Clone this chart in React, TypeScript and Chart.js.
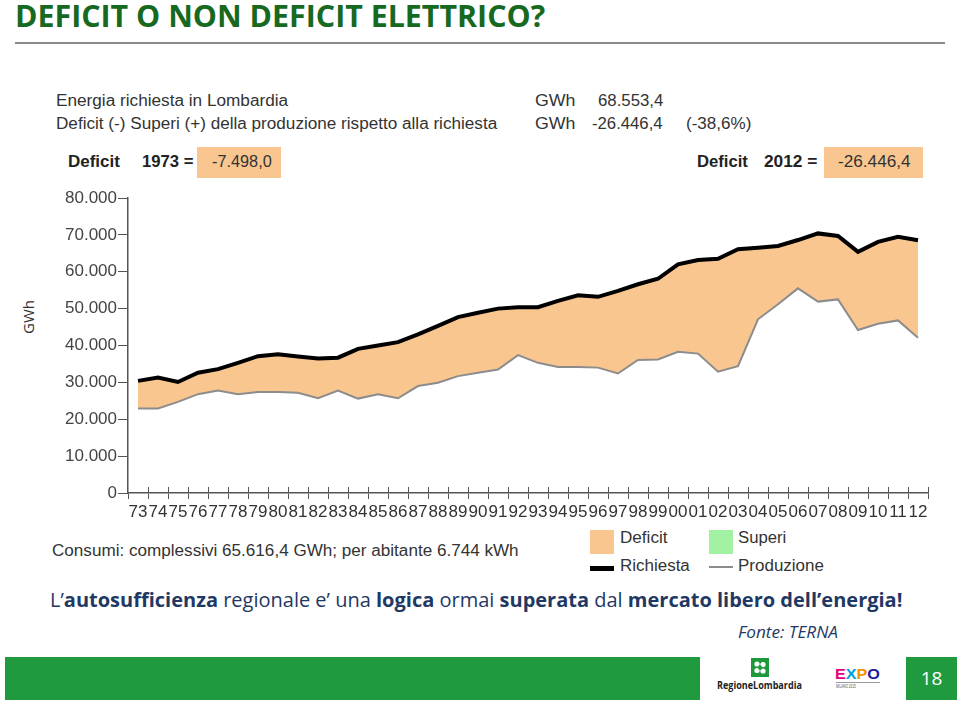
import React, { useEffect, useLayoutEffect, useRef } from "react";
import { Chart, registerables } from "chart.js";

Chart.register(...registerables);

// ---- data (GWh) ----
const years = [
  "73", "74", "75", "76", "77", "78", "79", "80", "81", "82",
  "83", "84", "85", "86", "87", "88", "89", "90", "91", "92",
  "93", "94", "95", "96", "97", "98", "99", "00", "01", "02",
  "03", "04", "05", "06", "07", "08", "09", "10", "11", "12",
];

const richiesta = [
  30400, 31300, 30100, 32600, 33600, 35300, 37100, 37600, 37000, 36500,
  36700, 39100, 40000, 40900, 43000, 45300, 47700, 48900, 50000, 50400,
  50400, 52100, 53600, 53200, 54800, 56600, 58100, 62000, 63200, 63500,
  66100, 66500, 67000, 68600, 70400, 69700, 65400, 68100, 69500, 68553,
];

const produzione = [
  22900, 22900, 24700, 26800, 27800, 26800, 27400, 27400, 27200, 25700,
  27800, 25600, 26800, 25700, 29000, 29900, 31700, 32600, 33500, 37400,
  35300, 34200, 34200, 34000, 32400, 36100, 36200, 38300, 37800, 32900,
  34400, 47100, 51200, 55500, 51900, 52500, 44200, 45900, 46800, 42107,
];

const yMin = 0;
const yMax = 80000;
const yStep = 10000;

const DEFICIT_COLOR = "#F9C690";
const SUPERI_COLOR = "#A3F2A3";
const AXIS_COLOR = "#555555";
const TEXT_COLOR = "#333333";
const GREEN = "#1F9A3F";
const BLUE = "#1F3864";

const fmt = (v: number) =>
  String(Math.round(v)).replace(/\B(?=(\d{3})+(?!\d))/g, ".");

const tickAbove = {
  id: "tickAbove",
  afterDraw(chart: any) {
    const xs = chart.scales.x;
    const ctx = chart.ctx;
    const y = xs.top;
    const n = chart.data.labels.length;
    ctx.save();
    ctx.strokeStyle = AXIS_COLOR;
    ctx.lineWidth = 1;
    for (let i = 1; i <= n; i++) {
      const x =
        i < n
          ? (xs.getPixelForValue(i - 1) + xs.getPixelForValue(i)) / 2
          : xs.right;
      const px = Math.round(x) + 0.5;
      ctx.beginPath();
      ctx.moveTo(px, y - 6);
      ctx.lineTo(px, y);
      ctx.stroke();
    }
    ctx.restore();
  },
};

function FitText(props: {
  left: number;
  top: number;
  width: number;
  style?: React.CSSProperties;
  children: React.ReactNode;
}) {
  const ref = useRef<HTMLSpanElement>(null);
  useLayoutEffect(() => {
    const el = ref.current;
    if (!el) return;
    el.style.transform = "none";
    const w = el.offsetWidth;
    if (w > 0) el.style.transform = `scaleX(${props.width / w})`;
  }, [props.width]);
  return (
    <div
      style={{
        position: "absolute",
        left: props.left,
        top: props.top,
        whiteSpace: "nowrap",
        lineHeight: 1,
        ...props.style,
      }}
    >
      <span ref={ref} style={{ display: "inline-block", transformOrigin: "0 0" }}>
        {props.children}
      </span>
    </div>
  );
}

const ARIAL = "'Liberation Sans', Arial, sans-serif";
const SANS = "'Open Sans', 'Noto Sans', sans-serif";

// Liberation Sans, line-height 1: cap centre ~ top + 0.49 fs
const lib = (cc: number, fs: number) => cc - 0.49 * fs;

function ChartBox() {
  const ref = useRef<HTMLCanvasElement>(null);
  useEffect(() => {
    if (!ref.current) return;
    const chart = new Chart(ref.current, {
      type: "line",
      data: {
        labels: years,
        datasets: [
          {
            label: "Richiesta",
            data: richiesta,
            borderColor: "#000000",
            borderWidth: 4,
            backgroundColor: DEFICIT_COLOR,
            fill: "+1",
            pointRadius: 0,
            tension: 0,
          },
          {
            label: "Produzione",
            data: produzione,
            borderColor: "#8C8C8C",
            borderWidth: 2,
            backgroundColor: DEFICIT_COLOR,
            fill: false,
            pointRadius: 0,
            tension: 0,
          },
        ],
      },
      options: {
        animation: false,
        responsive: false,
        devicePixelRatio: 1,
        layout: { padding: { top: 18, right: 12, left: 0, bottom: 0 } },
        plugins: {
          legend: { display: false },
          tooltip: { enabled: false },
          filler: { drawTime: "beforeDatasetsDraw" },
        } as any,
        scales: {
          x: {
            type: "category",
            offset: true,
            grid: {
              offset: true,
              drawOnChartArea: false,
              drawTicks: true,
              tickLength: 6,
              color: AXIS_COLOR,
              lineWidth: 1,
            },
            border: { display: true, color: AXIS_COLOR, width: 1.5 },
            ticks: {
              autoSkip: false,
              maxRotation: 0,
              minRotation: 0,
              padding: 3,
              color: TEXT_COLOR,
              font: { family: ARIAL, size: 17 },
            },
            afterFit: (s: any) => {
              s.height = 32;
            },
          },
          y: {
            min: yMin,
            max: yMax,
            grid: {
              drawOnChartArea: false,
              drawTicks: true,
              tickLength: 10,
              color: AXIS_COLOR,
              lineWidth: 1,
            },
            border: { display: true, color: AXIS_COLOR, width: 1.5 },
            ticks: {
              stepSize: yStep,
              padding: 1,
              color: "#444444",
              font: { family: ARIAL, size: 17 },
              callback: (v: any) => fmt(Number(v)),
            },
            afterFit: (s: any) => {
              s.width = 108;
            },
          },
        },
      } as any,
      plugins: [tickAbove],
    });
    return () => chart.destroy();
  }, []);
  return (
    <canvas
      ref={ref}
      width={920}
      height={345}
      style={{ position: "absolute", left: 20, top: 180, width: 920, height: 345 }}
    />
  );
}

export default function App() {
  const chartText: React.CSSProperties = {
    fontFamily: ARIAL,
    fontSize: 16,
    color: TEXT_COLOR,
  };
  const boldText: React.CSSProperties = {
    ...chartText,
    fontWeight: "bold",
    color: "#222",
  };
  return (
    <div
      style={{
        position: "absolute",
        left: 0,
        top: 0,
        width: 960,
        height: 701,
        background: "#ffffff",
        overflow: "hidden",
      }}
    >
      {/* Title */}
      <FitText
        left={15}
        top={0}
        width={530}
        style={{ fontFamily: SANS, fontSize: 31, fontWeight: 700, color: "#17691F" }}
      >
        DEFICIT O NON DEFICIT ELETTRICO?
      </FitText>
      <div
        style={{
          position: "absolute",
          left: 15,
          top: 42,
          width: 930,
          height: 2,
          background: "#8A8A8A",
        }}
      />

      {/* Chart header */}
      <FitText left={56} top={lib(100.5, 16)} width={232} style={chartText}>
        Energia richiesta in Lombardia
      </FitText>
      <FitText left={56} top={lib(124, 16)} width={441} style={chartText}>
        Deficit (-) Superi (+) della produzione rispetto alla richiesta
      </FitText>
      <FitText left={535} top={lib(100.5, 16)} width={40} style={chartText}>
        GWh
      </FitText>
      <FitText left={598} top={lib(100.5, 16)} width={65} style={chartText}>
        68.553,4
      </FitText>
      <FitText left={535} top={lib(124, 16)} width={40} style={chartText}>
        GWh
      </FitText>
      <FitText left={592} top={lib(124, 16)} width={71} style={chartText}>
        -26.446,4
      </FitText>
      <FitText left={686} top={lib(124, 16)} width={65} style={chartText}>
        (-38,6%)
      </FitText>

      {/* Deficit boxes */}
      <FitText left={68} top={lib(162, 16)} width={52} style={boldText}>
        Deficit
      </FitText>
      <FitText left={142} top={lib(162, 16)} width={51} style={boldText}>
        1973 =
      </FitText>
      <div
        style={{
          position: "absolute",
          left: 197,
          top: 147,
          width: 84,
          height: 31,
          background: DEFICIT_COLOR,
        }}
      />
      <FitText left={212} top={lib(162, 16)} width={60} style={chartText}>
        -7.498,0
      </FitText>

      <FitText left={697} top={lib(162, 16)} width={51} style={boldText}>
        Deficit
      </FitText>
      <FitText left={764} top={lib(162, 16)} width={53} style={boldText}>
        2012 =
      </FitText>
      <div
        style={{
          position: "absolute",
          left: 824,
          top: 147,
          width: 99,
          height: 31,
          background: DEFICIT_COLOR,
        }}
      />
      <FitText left={838} top={lib(162, 16)} width={73} style={chartText}>
        -26.446,4
      </FitText>

      {/* Y title */}
      <div
        style={{
          position: "absolute",
          left: 28,
          top: 317,
          transform: "translate(-50%, -50%) rotate(-90deg)",
          fontFamily: SANS,
          fontSize: 15,
          color: TEXT_COLOR,
          whiteSpace: "nowrap",
          lineHeight: 1,
        }}
      >
        GWh
      </div>

      <ChartBox />

      {/* Bottom chart texts and legend */}
      <FitText left={52} top={lib(551, 16)} width={467} style={chartText}>
        Consumi: complessivi 65.616,4 GWh; per abitante 6.744 kWh
      </FitText>
      <div
        style={{
          position: "absolute",
          left: 590,
          top: 530,
          width: 24,
          height: 24,
          background: DEFICIT_COLOR,
        }}
      />
      <FitText left={620} top={lib(538, 16)} width={47} style={chartText}>
        Deficit
      </FitText>
      <div
        style={{
          position: "absolute",
          left: 709,
          top: 530,
          width: 24,
          height: 24,
          background: SUPERI_COLOR,
        }}
      />
      <FitText left={738} top={lib(538, 16)} width={48} style={chartText}>
        Superi
      </FitText>
      <div
        style={{
          position: "absolute",
          left: 590,
          top: 566,
          width: 24,
          height: 5,
          background: "#000",
        }}
      />
      <FitText left={620} top={lib(566, 16)} width={70} style={chartText}>
        Richiesta
      </FitText>
      <div
        style={{
          position: "absolute",
          left: 709,
          top: 566,
          width: 24,
          height: 2,
          background: "#8C8C8C",
        }}
      />
      <FitText left={738} top={lib(566, 16)} width={86} style={chartText}>
        Produzione
      </FitText>

      {/* Message */}
      <FitText
        left={50}
        top={590}
        width={852}
        style={{ fontFamily: SANS, fontSize: 20, color: BLUE }}
      >
        L’<b>autosufficienza</b> regionale e’ una <b>logica</b> ormai{" "}
        <b>superata</b> dal <b>mercato libero dell’energia!</b>
      </FitText>
      <FitText
        left={738}
        top={624}
        width={100}
        style={{ fontFamily: SANS, fontSize: 16, fontStyle: "italic", color: BLUE }}
      >
        Fonte: TERNA
      </FitText>

      {/* Footer */}
      <div
        style={{
          position: "absolute",
          left: 5,
          top: 657,
          width: 695,
          height: 43,
          background: GREEN,
        }}
      />
      <svg
        style={{ position: "absolute", left: 751, top: 658 }}
        width={18}
        height={19}
        viewBox="0 0 18 19"
      >
        <rect x={0} y={0} width={18} height={19} fill="#1E9A3C" />
        <circle cx={6} cy={6} r={2.6} fill="#fff" />
        <circle cx={12} cy={6.5} r={2.6} fill="#fff" />
        <circle cx={6} cy={12.5} r={2.6} fill="#fff" />
        <circle cx={12} cy={13} r={2.6} fill="#fff" />
        <rect x={7.5} y={7.5} width={3} height={4} fill="#1E9A3C" />
      </svg>
      <FitText
        left={717}
        top={680}
        width={85}
        style={{ fontFamily: SANS, fontSize: 10, fontWeight: 700, color: "#222" }}
      >
        RegioneLombardia
      </FitText>
      <FitText
        left={835}
        top={667}
        width={45}
        style={{ fontFamily: ARIAL, fontSize: 14, fontWeight: 900 }}
      >
        <span style={{ color: "#E6007E" }}>E</span>
        <span style={{ color: "#009FE3" }}>X</span>
        <span style={{ color: "#F39200" }}>P</span>
        <span style={{ color: "#1D1D9B" }}>O</span>
      </FitText>
      <div
        style={{
          position: "absolute",
          left: 836,
          top: 682,
          width: 44,
          height: 1,
          background: "#999",
        }}
      />
      <FitText
        left={836}
        top={684}
        width={20}
        style={{ fontFamily: ARIAL, fontSize: 5, color: "#555" }}
      >
        MILANO 2015
      </FitText>
      <div
        style={{
          position: "absolute",
          left: 906,
          top: 657,
          width: 51,
          height: 43,
          background: GREEN,
          color: "#fff",
          fontFamily: SANS,
          fontSize: 19,
          display: "flex",
          alignItems: "center",
          justifyContent: "center",
          lineHeight: 1,
        }}
      >
        18
      </div>
    </div>
  );
}
